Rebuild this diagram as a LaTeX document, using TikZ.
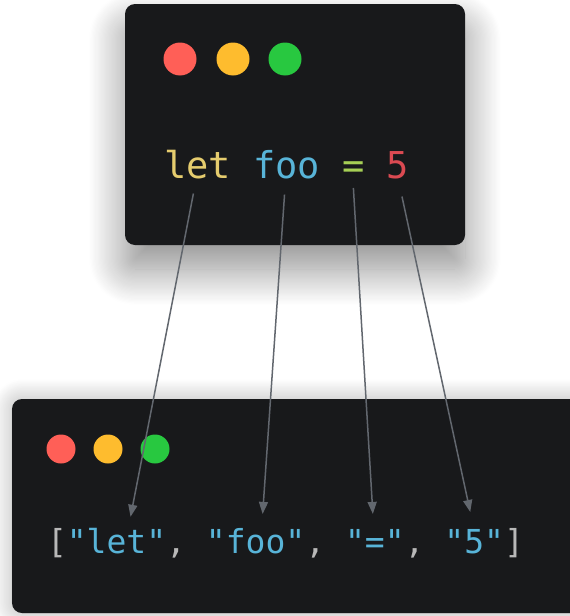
\documentclass[tikz,border=0pt]{standalone}
\usepackage{fontspec}
\newfontfamily\codefont{DejaVu Sans Mono}
\usepackage{xcolor}
\definecolor{termbg}{HTML}{18191B}
\definecolor{dotred}{HTML}{FF5F57}
\definecolor{dotyel}{HTML}{FEBC2E}
\definecolor{dotgrn}{HTML}{28C840}
\definecolor{kwyel}{HTML}{E5CC6E}
\definecolor{idcyan}{HTML}{58B4D8}
\definecolor{opgrn}{HTML}{A6CF55}
\definecolor{numred}{HTML}{DB4A52}
\definecolor{punct}{HTML}{B8B8B8}
\definecolor{arrgray}{HTML}{62676E}
\usetikzlibrary{arrows.meta, positioning, shadows.blur}

\begin{document}
\begin{tikzpicture}[
    x=1pt, y=-1pt,
    term/.style={fill=termbg, rounded corners=10pt},
    light/.style={circle, inner sep=0pt, minimum size=#1},
    tok/.style={inner sep=0pt, outer sep=0pt, anchor=base west},
    toptok/.style={tok, font=\codefont\fontsize{37}{44}\selectfont},
    bottok/.style={tok, font=\codefont\fontsize{33}{40}\selectfont, text=idcyan},
    arr/.style={-{Triangle[length=12pt, width=9pt]}, arrgray, line width=1.5pt}
  ]
  \useasboundingbox (0,0) rectangle (570,616);
  \clip (0,0) rectangle (570,616);

  % source window
  \fill[term, blur shadow={shadow xshift=0pt, shadow yshift=-24pt,
        shadow blur radius=36pt, shadow blur steps=30, shadow opacity=45}]
    (125,4) rectangle (465,245);
  \node[light=33pt, fill=dotred] (tred) at (180,59) {};
  \node[light=33pt, fill=dotyel] (tyel) at (233,59) {};
  \node[light=33pt, fill=dotgrn] (tgrn) at (285,59) {};

  \node[toptok, text=kwyel] (tlet) at (164,178) {let};
  \node[toptok, text=idcyan, base right=22.3pt of tlet] (tfoo) {foo};
  \node[toptok, text=opgrn, base right=22.3pt of tfoo] (teq) {=};
  \node[toptok, text=numred, base right=22.3pt of teq] (tfive) {5};

  % token window
  \fill[term, blur shadow={shadow xshift=0pt, shadow yshift=0pt,
        shadow blur radius=20pt, shadow blur steps=25, shadow opacity=30}]
    (12,399) rectangle (640,613);
  \node[light=29pt, fill=dotred] (bred) at (61,449) {};
  \node[light=29pt, fill=dotyel] (byel) at (108,449) {};
  \node[light=29pt, fill=dotgrn] (bgrn) at (155,449) {};

  \node[bottok, text=punct] (bopen) at (47,553) {[};
  \node[bottok, base right=0pt of bopen] (blet) {"let"};
  \node[bottok, text=punct, base right=0pt of blet] (bc1) {,};
  \node[bottok, base right=19.9pt of bc1] (bfoo) {"foo"};
  \node[bottok, text=punct, base right=0pt of bfoo] (bc2) {,};
  \node[bottok, base right=19.9pt of bc2] (beq) {"="};
  \node[bottok, text=punct, base right=0pt of beq] (bc3) {,};
  \node[bottok, base right=19.9pt of bc3] (bfive) {"5"};
  \node[bottok, text=punct, base right=0pt of bfive] (bclose) {]};

  % one arrow per token
  \draw[arr] ([xshift=-4pt, yshift=-15pt]tlet.south)
          -- ([xshift=14pt, yshift=11pt]blet.north);
  \draw[arr] ([xshift=-2pt, yshift=-16pt]tfoo.south)
          -- ([xshift=7pt, yshift=14pt]bfoo.north);
  \draw[arr] ([yshift=-10pt]teq.south)
          -- ([xshift=-2pt, yshift=15pt]beq.north);
  \draw[arr] ([xshift=4pt, yshift=-18pt]tfive.south)
          -- ([xshift=-4pt, yshift=17pt]bfive.north);
\end{tikzpicture}
\end{document}
